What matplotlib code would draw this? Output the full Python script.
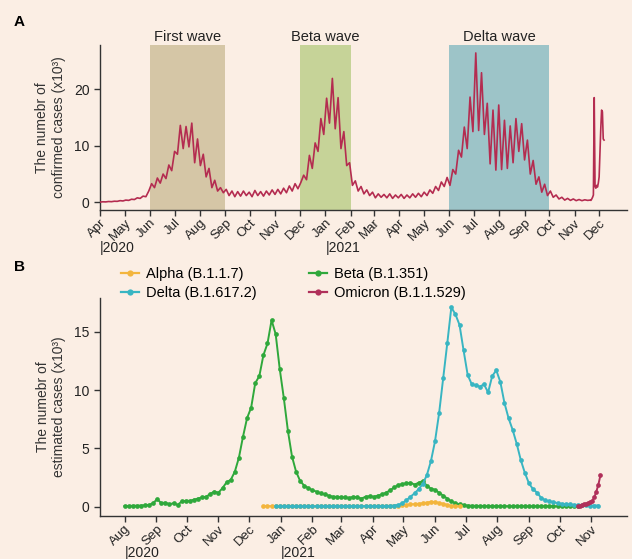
"""Confirmed and estimated COVID-19 cases by wave and variant."""

import matplotlib

matplotlib.use("Agg")

import matplotlib.dates as mdates
import matplotlib.pyplot as plt
import pandas as pd
from matplotlib.lines import Line2D
from matplotlib.transforms import blended_transform_factory

plt.rcParams["font.family"] = ["Liberation Sans", "DejaVu Sans"]

# Panel A: confirmed cases (x10^3), sampled every 3.5 days from 2020-04-01
confirmed_semiweekly = [
    0.05, 0.1, 0.08, 0.15, 0.12, 0.2, 0.18, 0.3, 0.25,
    0.4, 0.35, 0.55, 0.5, 0.8, 0.7, 1.1, 1.0,
    2.0, 3.3, 2.6, 4.3, 3.4, 5.0, 4.2, 6.6, 5.6, 9.0, 8.5, 13.6, 9.5, 13.4,
    9.8, 14.0, 7.0, 11.2, 6.5, 8.5, 4.5, 6.0, 2.6, 3.9, 2.0, 2.6, 1.7,
    2.3, 1.2, 2.0, 1.0, 1.9, 1.1, 2.0, 1.2, 1.8, 1.0, 2.1, 1.2, 1.9, 1.1,
    2.0, 1.3, 2.2, 1.4, 2.3, 1.5, 2.5, 1.7, 2.9, 2.0, 3.3, 2.4,
    3.5, 4.8, 4.0, 8.3, 6.0, 10.5, 9.0, 14.8, 12.0, 18.4, 14.0, 21.9, 13.0,
    18.5, 9.5, 12.5, 6.5, 7.0, 3.0, 3.8, 2.0, 2.8, 1.5, 2.2, 1.2, 1.8,
    0.8, 1.5, 0.9, 1.4, 0.8, 1.5, 0.7, 1.3, 0.8, 1.4, 0.7, 1.3, 0.8, 1.5,
    0.9, 1.6, 1.0,
    1.8, 1.2, 2.2, 1.6, 2.8, 2.1, 3.6, 2.8, 4.4,
    3.0, 5.8, 5.0, 9.2, 8.0, 13.3, 9.5, 18.6, 12.5, 26.4, 12.7, 22.9, 12.0,
    17.5, 6.8, 16.3, 5.7, 17.2, 5.8, 14.5, 6.0, 13.5, 7.0, 14.8, 9.0, 13.9,
    7.5, 11.0, 5.0, 7.4, 3.2, 4.5, 1.8, 3.2, 1.2, 2.0, 0.9, 1.3, 0.6, 0.9,
    0.4, 0.7, 0.35, 0.6, 0.3, 0.5, 0.3, 0.45, 0.35,
]
# Daily values for the end of the series, from 2021-11-20
confirmed_tail_daily = [
    0.4, 0.35, 0.6, 0.9, 1.3, 18.5, 2.8, 2.5, 3.0, 2.7, 3.4, 4.5,
    8.8, 13.0, 16.3, 16.0, 11.2, 11.0,
]

waves = ["First wave", "Beta wave", "Delta wave"]
wave_starts = ["2020-06-01", "2020-12-01", "2021-06-01"]
wave_ends = ["2020-09-01", "2021-02-01", "2021-10-01"]
wave_colors = ["#d5c6a6", "#c6d398", "#9dc4c8"]

# Panel B: estimated cases by variant (x10^3), every 4 days
beta_start = "2020-08-01"
beta_cases = [
    0.05, 0.05, 0.08, 0.08, 0.1, 0.12, 0.15, 0.3, 0.65, 0.3,
    0.35, 0.2, 0.3, 0.15, 0.45, 0.5, 0.5, 0.6, 0.7, 0.8,
    0.85, 1.1, 1.3, 1.2, 1.6, 2.1, 2.3, 3.0, 4.2, 6.0,
    7.6, 8.5, 10.6, 11.2, 13.0, 14.0, 16.0, 14.8, 11.8, 9.3,
    6.5, 4.3, 3.0, 2.2, 1.8, 1.6, 1.4, 1.3, 1.15, 1.05,
    0.95, 0.85, 0.85, 0.8, 0.8, 0.75, 0.85, 0.8, 0.7, 0.85,
    0.9, 0.85, 0.95, 1.05, 1.2, 1.4, 1.65, 1.85, 1.95, 2.0,
    2.05, 1.9, 2.05, 2.2, 1.8, 1.55, 1.45, 1.2, 0.95, 0.7,
    0.45, 0.3, 0.2, 0.12, 0.1,
    0.08, 0.07, 0.06, 0.06, 0.05, 0.05, 0.05, 0.04, 0.05, 0.04,
    0.04, 0.05, 0.04, 0.04, 0.03, 0.04, 0.04, 0.03, 0.03, 0.04,
    0.03, 0.03, 0.03, 0.03, 0.03, 0.03, 0.03,
]
alpha_start = "2020-12-15"
alpha_cases = [
    0.04, 0.05, 0.04, 0.04, 0.05, 0.04, 0.04, 0.04, 0.05, 0.04,
    0.04, 0.04, 0.05, 0.04, 0.04, 0.04, 0.05, 0.04, 0.04, 0.05,
    0.04, 0.04, 0.05, 0.05, 0.04, 0.05, 0.05, 0.05, 0.06, 0.06,
    0.06, 0.07,
    0.08, 0.1, 0.12, 0.15, 0.2, 0.22, 0.25, 0.3, 0.35, 0.42,
    0.4, 0.32, 0.25, 0.15, 0.08, 0.04, 0.02,
]
delta_start = "2020-12-27"
delta_cases = [
    0.02, 0.02, 0.03, 0.02, 0.03, 0.03, 0.02, 0.03, 0.03, 0.03,
    0.04, 0.03, 0.03, 0.04, 0.04, 0.03, 0.04, 0.04, 0.04, 0.05,
    0.04, 0.04, 0.05, 0.05, 0.04, 0.05, 0.05,
    0.05, 0.07, 0.1, 0.15, 0.3, 0.55, 0.85, 1.15, 1.5, 1.95,
    2.7, 3.9, 5.6, 8.0, 11.0, 14.0, 17.1, 16.5, 15.6, 13.4,
    11.3, 10.5, 10.4, 10.3, 10.5, 9.8, 11.2, 11.7, 10.7, 8.9,
    7.6, 6.6, 5.4, 4.0, 2.9, 2.0, 1.5, 1.2, 0.75, 0.55,
    0.45, 0.4, 0.3, 0.25, 0.2, 0.2, 0.15, 0.15, 0.12, 0.12,
    0.1, 0.1, 0.1,
]
# Omicron every 2 days
omicron_start = "2021-10-19"
omicron_cases = [0.02, 0.08, 0.15, 0.2, 0.25, 0.3, 0.4, 0.5, 0.8, 1.3, 1.9, 2.7]

variant_labels = ["Alpha (B.1.1.7)", "Delta (B.1.617.2)", "Beta (B.1.351)", "Omicron (B.1.1.529)"]
variant_colors = ["#f3b53d", "#38b5c2", "#2fa83b", "#b0305a"]

bg = "#fbeee4"
ink = "#333333"
red = "#b42c50"

fig = plt.figure(figsize=(6.32, 5.59), dpi=100, facecolor=bg)
W, H = 632, 559
axA = fig.add_axes([100 / W, 1 - 210 / H, 527 / W, 165 / H])
axB = fig.add_axes([100 / W, 1 - 516 / H, 527 / W, 218 / H])


def style_axis(ax, first_month, last_month):
    ax.set_facecolor(bg)
    for side in ["top", "right"]:
        ax.spines[side].set_visible(False)
    for side in ["left", "bottom"]:
        ax.spines[side].set_color(ink)
        ax.spines[side].set_linewidth(1.0)
    ax.tick_params(colors=ink, labelcolor="#222222", length=4, width=1, labelsize=10)
    ax.tick_params(axis="x", pad=1, labelsize=9.5)
    ax.set_xticks(pd.date_range(first_month, last_month, freq="MS"))
    ax.xaxis.set_major_formatter(mdates.DateFormatter("%b"))
    for lab in ax.get_xticklabels():
        lab.set_rotation(45)
        lab.set_ha("right")
        lab.set_rotation_mode("anchor")


# Panel A
dates_main = pd.date_range("2020-04-01", periods=len(confirmed_semiweekly), freq="84h")
dates_tail = pd.date_range("2021-11-20", periods=len(confirmed_tail_daily), freq="D")
dates_a = dates_main.append(dates_tail)
cases_a = confirmed_semiweekly + confirmed_tail_daily

ymax_a = 27.8
for name, start, end, color in zip(waves, wave_starts, wave_ends, wave_colors):
    s, e = pd.Timestamp(start), pd.Timestamp(end)
    axA.axvspan(s, e, ymin=0, ymax=1, color=color, lw=0, zorder=0)
    axA.text(s + (e - s) / 2, ymax_a * 1.005, name, ha="center", va="bottom",
             fontsize=10.5, color="#222222")

axA.plot(dates_a, cases_a, color=red, lw=1.2, zorder=3)
axA.set_xlim(pd.Timestamp("2020-04-01"), pd.Timestamp("2022-01-04"))
axA.set_ylim(-1.35, ymax_a)
axA.set_yticks([0, 10, 20])
style_axis(axA, "2020-04-01", "2021-12-01")
axA.set_ylabel("The numebr of\nconfirmed cases (x10³)", fontsize=10, color="#333333",
               labelpad=6)

# Panel B
def plot_variant(dates_start, values, step, color):
    d = pd.date_range(dates_start, periods=len(values), freq=step)
    axB.plot(d, values, color=color, lw=1.4, marker="o", ms=3.4, mew=0, zorder=3)


plot_variant(beta_start, beta_cases, "4D", variant_colors[2])
plot_variant(alpha_start, alpha_cases, "4D", variant_colors[0])
plot_variant(delta_start, delta_cases, "4D", variant_colors[1])
plot_variant(omicron_start, omicron_cases, "2D", variant_colors[3])

axB.set_xlim(pd.Timestamp("2020-07-08"), pd.Timestamp("2021-12-06"))
axB.set_ylim(-0.8, 17.9)
axB.set_yticks([0, 5, 10, 15])
style_axis(axB, "2020-08-01", "2021-11-01")
axB.set_ylabel("The numebr of\nestimated cases (x10³)", fontsize=10, color="#333333",
               labelpad=6)

handles = [Line2D([], [], color=c, lw=1.6, marker="o", ms=4.5, mew=0) for c in variant_colors]
fig.legend(handles, variant_labels, ncol=2, loc="center left",
           bbox_to_anchor=(108 / W, 1 - 283.5 / H), frameon=False, fontsize=10.5,
           handlelength=1.2, handletextpad=0.5, columnspacing=3.6, labelspacing=0.3)

# Year markers below the month labels
for ax, dates, y in [(axA, ["2020-04-01", "2021-01-01"], -0.228),
                     (axB, ["2020-08-01", "2021-01-01"], -0.17)]:
    tr = blended_transform_factory(ax.transData, ax.transAxes)
    for d in dates:
        ax.text(pd.Timestamp(d), y, "|" + d[:4], transform=tr, ha="left", va="center",
                fontsize=10, color="#222222")

fig.text(14 / W, 1 - 22 / H, "A", fontsize=11, fontweight="bold", va="center")
fig.text(14 / W, 1 - 267 / H, "B", fontsize=11, fontweight="bold", va="center")

fig.savefig("out.png", dpi=100, facecolor=bg)
plt.close(fig)
